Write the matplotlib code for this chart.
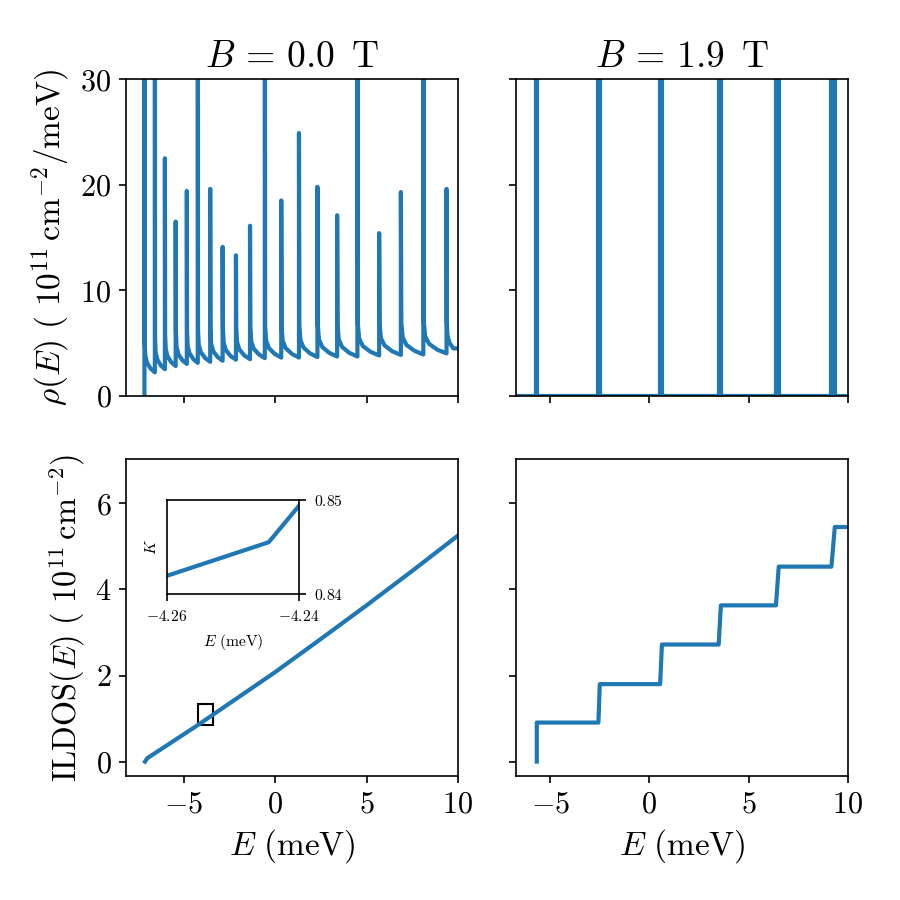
import matplotlib
matplotlib.use('Agg')
import matplotlib.pyplot as plt
from matplotlib.patches import Rectangle

plt.rcParams['font.family'] = 'serif'
plt.rcParams['font.serif'] = ['cmr10']
plt.rcParams['mathtext.fontset'] = 'cm'
plt.rcParams['axes.formatter.use_mathtext'] = True

# B = 0 T : density of states, spike positions (meV), spike tops, value just before each spike
spike_E = [-7.16, -6.59, -6.04, -5.45, -4.84, -4.24, -3.56, -2.88, -2.15, -1.38,
           -0.57, 0.33, 1.30, 2.31, 3.39, 4.50, 5.69, 6.88, 8.11, 9.38]
spike_top = [60, 60, 22.5, 16.5, 19.4, 60, 19.6, 14.1, 13.3, 16.1,
             60, 18.5, 24.9, 19.8, 17.1, 60, 15.4, 19.3, 60, 19.6]
trough = [0.0, 2.2, 2.5, 2.8, 3.0, 3.1, 3.2, 3.3, 3.4, 3.45,
          3.55, 3.6, 3.6, 3.65, 3.7, 3.7, 3.8, 3.85, 3.9, 4.0]
end_E, end_rho = 10.0, 4.47
# tail shape after each spike: fraction of gap, height above next trough
tail_frac = [0.02, 0.08, 0.25, 0.6]
tail_rise = [3.0, 1.6, 0.9, 0.35]

# B = 0 T : integrated LDOS
ildos_E = [-7.13, -7.0, -4.25, 0.0, 2.5, 5.0, 7.5, 10.0]
ildos_0 = [0.0, 0.08, 0.845, 2.08, 2.85, 3.63, 4.43, 5.25]

# zoom inset
inset_E = [-4.26, -4.2446, -4.24]
inset_K = [0.84194, 0.84551, 0.8494]

# B = 1.9 T : Landau levels, widths, ILDOS plateaus
level_E = [-5.67, -2.53, 0.59, 3.55, 6.45, 9.26]
level_w = [0.025, 0.035, 0.045, 0.055, 0.07, 0.085]
plateau = [0.0, 0.907, 1.80, 2.72, 3.63, 4.53, 5.45]

# build curves
rho0_x, rho0_y = [], []
for i, e in enumerate(spike_E):
    rho0_x += [e, e]
    rho0_y += [trough[i], spike_top[i]]
    if i + 1 < len(spike_E):
        nxt_e, nxt_v = spike_E[i + 1], trough[i + 1]
    else:
        nxt_e, nxt_v = end_E, end_rho - 0.35
    gap = nxt_e - e
    for f, r in zip(tail_frac, tail_rise):
        rho0_x.append(e + f * gap)
        rho0_y.append(nxt_v + r)
rho0_x.append(end_E)
rho0_y.append(end_rho)

rho1_x, rho1_y = [-7.0], [0.0]
il1_x, il1_y = [level_E[0]], [plateau[0]]
for i, (e, w) in enumerate(zip(level_E, level_w)):
    rho1_x += [e - w, e - w, e + w, e + w]
    rho1_y += [0.0, 60, 60, 0.0]
    if i == 0:
        il1_x += [e]
    else:
        il1_x += [e - w, e + w]
        il1_y += [plateau[i]]
    il1_y += [plateau[i + 1]]
rho1_x.append(10.5)
rho1_y.append(0.0)
il1_x.append(10.5)
il1_y.append(plateau[-1])

fig, axs = plt.subplots(2, 2, figsize=(6, 6), dpi=150, sharex='col', sharey='row')
fig.subplots_adjust(left=0.14, right=0.942, top=0.912, bottom=0.138,
                    wspace=0.175, hspace=0.202)
lw = 2.0
c = '#1f77b4'

ax = axs[0, 0]
ax.plot(rho0_x, rho0_y, color=c, lw=lw)
ax.set_ylim(0, 30)
ax.set_yticks([0, 10, 20, 30])
ax.set_title(r'$B\,=\,0.0\ \,\mathrm{T}$', fontsize=18)
ax.set_ylabel(r'$\rho(E)\ (\ 10^{11}\,\mathrm{cm}^{-2}/\mathrm{meV})$', fontsize=16)

ax = axs[0, 1]
ax.plot(rho1_x, rho1_y, color=c, lw=lw)
ax.set_title(r'$B\,=\,1.9\ \,\mathrm{T}$', fontsize=18)

ax = axs[1, 0]
ax.plot(ildos_E, ildos_0, color=c, lw=lw)
ax.add_patch(Rectangle((-4.24, 0.84), 0.82, 0.5, fill=False, ec='k', lw=1.0))
ax.set_xlim(-8.17, 10)
ax.set_ylim(-0.33, 7.02)
ax.set_yticks([0, 2, 4, 6])
ax.set_xticks([-5, 0, 5, 10])
ax.set_xlabel(r'$E\ (\mathrm{meV})$', fontsize=16)
ax.set_ylabel(r'$\mathrm{ILDOS}(E)\ (\ 10^{11}\,\mathrm{cm}^{-2})$', fontsize=15.5)

ax = axs[1, 1]
ax.plot(il1_x, il1_y, color=c, lw=lw)
ax.set_xlim(-6.72, 10)
ax.set_xticks([-5, 0, 5, 10])
ax.set_xlabel(r'$E\ (\mathrm{meV})$', fontsize=16)

for ax in axs.flat:
    ax.tick_params(labelsize=14.5)

ins = fig.add_axes([0.1856, 0.34, 0.1467, 0.1044])
ins.plot(inset_E, inset_K, color=c, lw=lw)
ins.set_xlim(-4.26, -4.24)
ins.set_ylim(0.84, 0.85)
ins.set_xticks([-4.26, -4.24])
ins.set_yticks([0.84, 0.85])
ins.yaxis.tick_right()
ins.tick_params(labelsize=7.5)
ins.set_xlabel(r'$E\ (\mathrm{meV})$', fontsize=7.5)
ins.set_ylabel(r'$K$', fontsize=7.5)

fig.savefig('out.png', dpi=150)
